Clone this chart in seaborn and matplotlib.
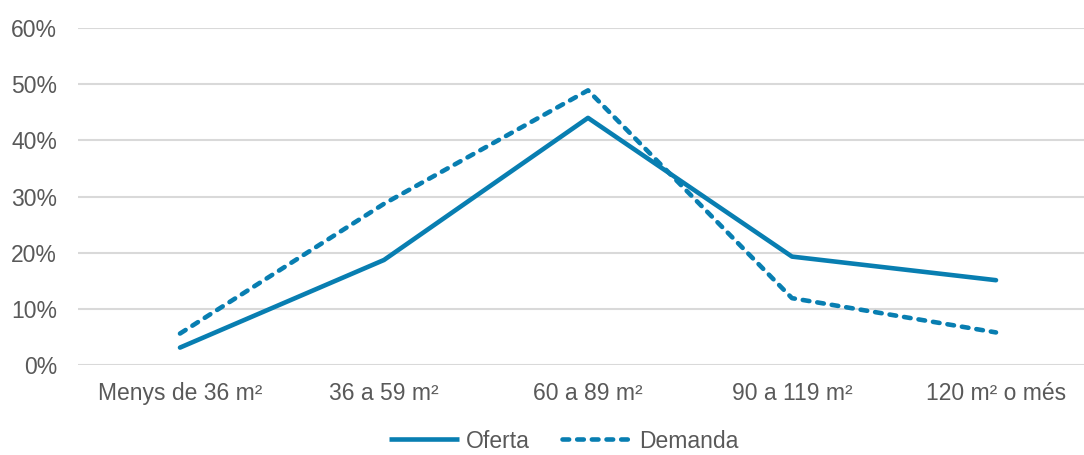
import matplotlib
matplotlib.use("Agg")
import matplotlib.pyplot as plt
import seaborn as sns
import pandas as pd
from matplotlib.ticker import PercentFormatter
from matplotlib.lines import Line2D

categories = ["Menys de 36 m²", "36 a 59 m²", "60 a 89 m²", "90 a 119 m²", "120 m² o més"]
oferta = [3.1, 18.7, 44.0, 19.3, 15.1]
demanda = [5.6, 28.7, 48.9, 11.9, 5.8]
series_names = ["Oferta", "Demanda"]
y_ticks = [0, 10, 20, 30, 40, 50, 60]

df = pd.DataFrame({
    "cat": list(range(len(categories))) * 2,
    "valor": oferta + demanda,
    "serie": [series_names[0]] * len(categories) + [series_names[1]] * len(categories),
})

sns.set_theme(style="white")
plt.rcParams["font.family"] = ["Liberation Sans", "DejaVu Sans"]
plt.rcParams["lines.dash_capstyle"] = "round"
plt.rcParams["lines.solid_capstyle"] = "round"

text_color = "#595959"
line_color = "#087EB1"
dash_pattern = (1.45, 1.75)

fig = plt.figure(figsize=(10.84, 4.55), dpi=100)
ax = fig.add_axes([78 / 1084, 1 - 365 / 455, 1020 / 1084, 337 / 455])

sns.lineplot(
    data=df, x="cat", y="valor", style="serie", ax=ax,
    color=line_color, linewidth=3.3,
    dashes={"Oferta": "", "Demanda": dash_pattern},
    markers=False, legend=False,
)

ax.set_xlim(-0.5, 4.5)
ax.set_ylim(0, 60)
ax.set_yticks(y_ticks)
ax.yaxis.set_major_formatter(PercentFormatter(decimals=0))
ax.set_xticks(range(len(categories)))
ax.set_xticklabels(categories)
ax.grid(axis="y", color="#D9D9D9", linewidth=1.5)
ax.set_axisbelow(True)
for s in ax.spines.values():
    s.set_visible(False)
ax.tick_params(axis="both", length=0, labelsize=16.5, labelcolor=text_color)
ax.tick_params(axis="y", pad=15)
ax.tick_params(axis="x", pad=12)
ax.set_xlabel("")
ax.set_ylabel("")

handles = [
    Line2D([], [], color=line_color, linewidth=3.3, solid_capstyle="butt"),
    Line2D([], [], color=line_color, linewidth=3.3, dashes=dash_pattern),
]
fig.legend(
    handles, series_names, loc="center", bbox_to_anchor=(0.520, 1 - 441 / 455),
    ncol=2, frameon=False, fontsize=16.5, labelcolor=text_color,
    handlelength=3.05, handletextpad=0.3, columnspacing=1.4,
)

fig.savefig("out.png", dpi=100)
